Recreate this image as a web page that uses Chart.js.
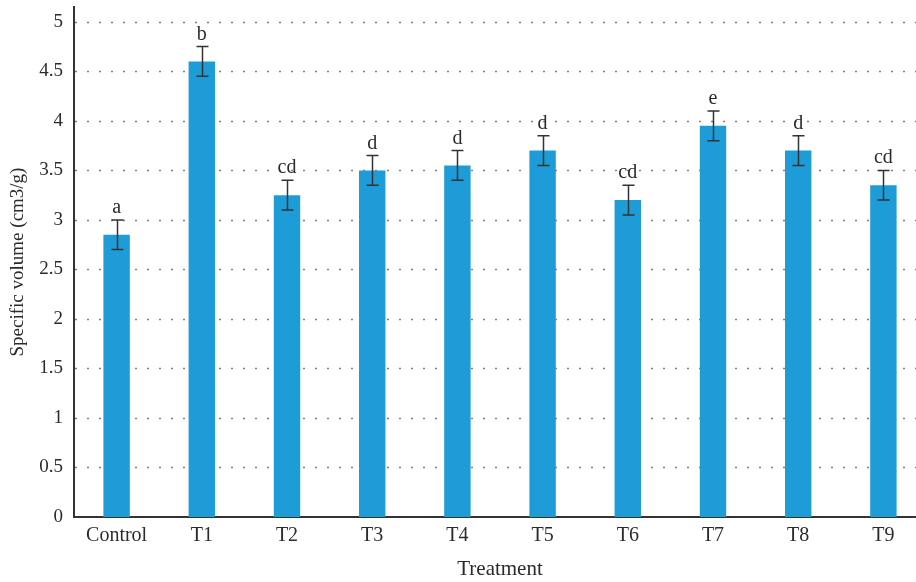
<!DOCTYPE html>
<html>
<head>
<meta charset="utf-8">
<script src="https://cdn.jsdelivr.net/npm/chart.js@4/dist/chart.umd.min.js"></script>
<style>
  html, body { margin: 0; padding: 0; background: #fff; overflow: hidden; }
  #wrap { width: 932px; height: 582px; position: relative; }
</style>
</head>
<body>
<div id="wrap"><canvas id="chart"></canvas></div>
<script>
// Specific volume per treatment, with standard error and significance letters
const categories = ['Control', 'T1', 'T2', 'T3', 'T4', 'T5', 'T6', 'T7', 'T8', 'T9'];
const specificVolume = [2.85, 4.6, 3.25, 3.5, 3.55, 3.7, 3.2, 3.95, 3.7, 3.35];
const errors = [0.15, 0.15, 0.15, 0.15, 0.15, 0.15, 0.15, 0.15, 0.15, 0.15];
const letters = ['a', 'b', 'cd', 'd', 'd', 'd', 'cd', 'e', 'd', 'cd'];
const yTickValues = [0, 0.5, 1, 1.5, 2, 2.5, 3, 3.5, 4, 4.5, 5];

const FONT = '"Liberation Serif", "DejaVu Serif", serif';
const TEXT = '#2b2b2b';

// Dotted horizontal guides at each y tick (except the baseline)
const dottedGrid = {
  id: 'dottedGrid',
  beforeDatasetsDraw(chart) {
    const { ctx, chartArea } = chart;
    const y = chart.scales.y;
    ctx.save();
    ctx.strokeStyle = '#808080';
    ctx.lineWidth = 1.6;
    ctx.setLineDash([2, 10]);
    yTickValues.forEach(v => {
      if (v === 0) return;
      const py = Math.round(y.getPixelForValue(v)) + 0.5;
      ctx.beginPath();
      ctx.moveTo(chartArea.left + 1, py);
      ctx.lineTo(chartArea.right, py);
      ctx.stroke();
    });
    ctx.restore();
  }
};

// Error bars and letter annotations above each bar
const errorBars = {
  id: 'errorBars',
  afterDatasetsDraw(chart) {
    const { ctx } = chart;
    const y = chart.scales.y;
    const meta = chart.getDatasetMeta(0);
    ctx.save();
    ctx.strokeStyle = '#333';
    ctx.lineWidth = 1.5;
    ctx.setLineDash([]);
    meta.data.forEach((bar, i) => {
      const v = specificVolume[i];
      const e = errors[i];
      const x = Math.round(bar.x) + 0.5;
      const top = y.getPixelForValue(v + e);
      const bot = y.getPixelForValue(v - e);
      const cap = 6;
      ctx.beginPath();
      ctx.moveTo(x, top); ctx.lineTo(x, bot);
      ctx.moveTo(x - cap, top); ctx.lineTo(x + cap, top);
      ctx.moveTo(x - cap, bot); ctx.lineTo(x + cap, bot);
      ctx.stroke();
      ctx.fillStyle = TEXT;
      ctx.font = '20px ' + FONT;
      ctx.textAlign = 'center';
      ctx.textBaseline = 'alphabetic';
      ctx.fillText(letters[i], bar.x, top - 7);
    });
    ctx.restore();
  }
};

new Chart(document.getElementById('chart'), {
  type: 'bar',
  data: {
    labels: categories,
    datasets: [{
      data: specificVolume,
      backgroundColor: '#1e9cd7',
      borderWidth: 0,
      barPercentage: 0.31,
      categoryPercentage: 1.0
    }]
  },
  options: {
    responsive: true,
    maintainAspectRatio: false,
    animation: false,
    devicePixelRatio: 1,
    layout: { padding: { top: 7, right: 6, bottom: 0, left: 0 } },
    plugins: { legend: { display: false }, tooltip: { enabled: false } },
    scales: {
      x: {
        grid: { display: false, drawTicks: false },
        border: { display: true, color: '#333', width: 2 },
        ticks: { color: TEXT, font: { family: FONT, size: 20 }, padding: 7, maxRotation: 0 },
        title: { display: true, text: 'Treatment', color: TEXT, font: { family: FONT, size: 21 }, padding: { top: 0, bottom: 0 } },
        afterFit(scale) { scale.height = 65; scale.paddingLeft = 0; scale.paddingRight = 0; }
      },
      y: {
        min: 0,
        max: 5.15,
        grid: { display: false, drawTicks: false },
        border: { display: true, color: '#333', width: 2 },
        afterBuildTicks(scale) { scale.ticks = yTickValues.map(v => ({ value: v })); },
        ticks: {
          color: TEXT,
          font: { family: FONT, size: 19 },
          padding: 11,
          callback: v => String(v)
        },
        title: { display: true, text: 'Specific volume (cm3/g)', color: TEXT, font: { family: FONT, size: 19 }, padding: { top: 7, bottom: 0 } },
        afterFit(scale) { scale.width = 74; scale.paddingTop = 0; scale.paddingBottom = 0; }
      }
    }
  },
  plugins: [dottedGrid, errorBars]
});
</script>
</body>
</html>
